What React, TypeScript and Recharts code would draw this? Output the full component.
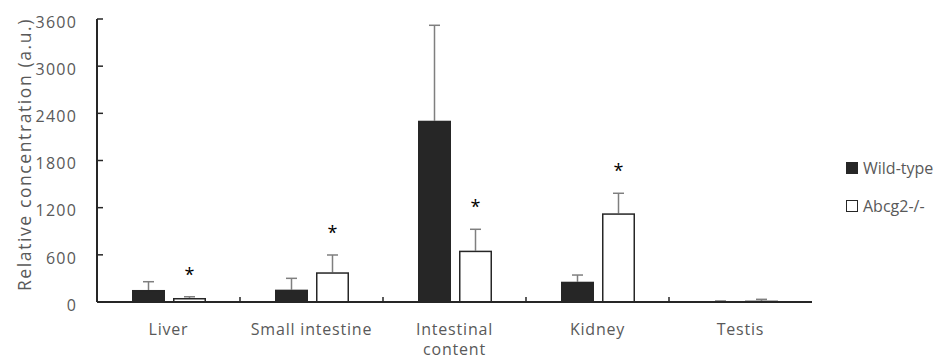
import React from 'react';
import { BarChart, Bar, XAxis, YAxis } from 'recharts';

const categories = ['Liver', 'Small intestine', 'Intestinal content', 'Kidney', 'Testis'];
const tickLabels = [['Liver'], ['Small intestine'], ['Intestinal', 'content'], ['Kidney'], ['Testis']];
const wildType = [153, 157, 2306, 258, 9];
const wildTypeErr = [105, 144, 1214, 85, 4];
const abcg2 = [51, 378, 653, 1128, 17];
const abcg2Err = [16, 220, 272, 255, 17];
const significant = [true, true, true, true, false];
const yTicks = [0, 600, 1200, 1800, 2400, 3000, 3600];
const seriesNames = ['Wild-type', 'Abcg2-/-'];

const FONT = '"Open Sans", sans-serif';
const GREY_TEXT = '#595959';
const DARK = '#262626';
const ERR = '#7f7f7f';

const data = categories.map((name, i) => ({
  name,
  wt: wildType[i],
  wtErr: wildTypeErr[i],
  ko: abcg2[i],
  koErr: abcg2Err[i],
  sig: significant[i],
}));

// bar + upper error whisker + optional significance star
const makeBarShape = (fill: string, errKey: string, starKey?: string) => (props: any) => {
  const { x, y, width, height, value, payload } = props;
  const v = Array.isArray(value) ? value[1] - value[0] : value;
  const ppu = v > 0 ? height / v : 0;
  const errTop = y - payload[errKey] * ppu;
  const cx = x + width / 2;
  return (
    <g>
      <line x1={cx} x2={cx} y1={y} y2={errTop} stroke={ERR} strokeWidth={1.5} />
      <line x1={cx - 5.5} x2={cx + 5.5} y1={errTop} y2={errTop} stroke={ERR} strokeWidth={1.5} />
      <rect
        x={x + 0.75}
        y={y + 0.75}
        width={Math.max(width - 1.5, 0)}
        height={Math.max(height - 0.75, 0)}
        fill={fill}
        stroke={DARK}
        strokeWidth={1.5}
      />
      {starKey && payload[starKey] && (
        <text x={cx} y={errTop - 16} textAnchor="middle" fontSize={18} fontFamily={FONT} fill="#000">
          *
        </text>
      )}
    </g>
  );
};

const CategoryTick = (props: any) => {
  const { x, y, payload, index, visibleTicksCount, width } = props;
  const half = payload && payload.offset ? payload.offset : width / visibleTicksCount / 2;
  const lines = tickLabels[index] || [payload.value];
  return (
    <g>
      {index < categories.length - 1 && (
        <line x1={x + half} x2={x + half} y1={y} y2={y - 5} stroke={DARK} strokeWidth={1.5} />
      )}
      <text
        x={x}
        y={y + 33}
        textAnchor="middle"
        fontSize={16}
        letterSpacing={0.8}
        fontFamily={FONT}
        fill={GREY_TEXT}
      >
        {lines.map((l: string, i: number) => (
          <tspan key={i} x={x} dy={i === 0 ? 0 : 20}>
            {l}
          </tspan>
        ))}
      </text>
    </g>
  );
};

const YTitle = (props: any) => {
  const vb = props.viewBox || { x: 0, y: 11, width: 89, height: 283 };
  const cx = 16;
  const cy = vb.y + vb.height / 2 - 6;
  return (
    <text
      x={cx}
      y={cy}
      transform={`rotate(-90, ${cx}, ${cy})`}
      textAnchor="middle"
      dominantBaseline="central"
      fontSize={17.5}
      letterSpacing={1.6}
      fontFamily={FONT}
      fill={GREY_TEXT}
    >
      Relative concentration (a.u.)
    </text>
  );
};

const LegendBox = () => {
  const fills = [DARK, '#fff'];
  return (
    <div
      style={{
        position: 'absolute',
        left: 838,
        top: 149,
        fontFamily: FONT,
        fontSize: 16,
        color: GREY_TEXT,
        whiteSpace: 'nowrap',
      }}
    >
      {seriesNames.map((label, i) => (
        <div key={label} style={{ display: 'flex', alignItems: 'center', height: 22, marginBottom: 16 }}>
          <span
            style={{
              display: 'inline-block',
              width: 12,
              height: 12,
              flexShrink: 0,
              boxSizing: 'border-box',
              background: fills[i],
              border: `1.5px solid ${DARK}`,
              marginRight: 5,
            }}
          />
          <span>{label}</span>
        </div>
      ))}
    </div>
  );
};

export default function App() {
  return (
    <div style={{ position: 'relative', width: 927, height: 348 }}>
      <BarChart
        width={935}
        height={356}
        data={data}
        margin={{ top: 11, right: 131, left: 0, bottom: 0 }}
        barSize={33}
        barGap={8}
      >
        <XAxis
          dataKey="name"
          height={62}
          axisLine={{ stroke: DARK, strokeWidth: 2 }}
          tickLine={false}
          tickSize={0}
          tickMargin={0}
          interval={0}
          tick={<CategoryTick />}
        />
        <YAxis
          width={89}
          domain={[0, 3600]}
          ticks={yTicks}
          interval={0}
          axisLine={{ stroke: DARK, strokeWidth: 2 }}
          tickLine={{ stroke: DARK, strokeWidth: 1.5 }}
          tickSize={-6}
          tickMargin={26}
          tick={{ fontSize: 16, fontFamily: FONT, fill: GREY_TEXT, dy: 3, letterSpacing: 1.2 }}
          label={{ content: <YTitle /> }}
        />
        <Bar dataKey="wt" name={seriesNames[0]} fill={DARK} isAnimationActive={false} shape={makeBarShape(DARK, 'wtErr')} />
        <Bar dataKey="ko" name={seriesNames[1]} fill="#fff" isAnimationActive={false} shape={makeBarShape('#fff', 'koErr', 'sig')} />
      </BarChart>
      <LegendBox />
    </div>
  );
}
